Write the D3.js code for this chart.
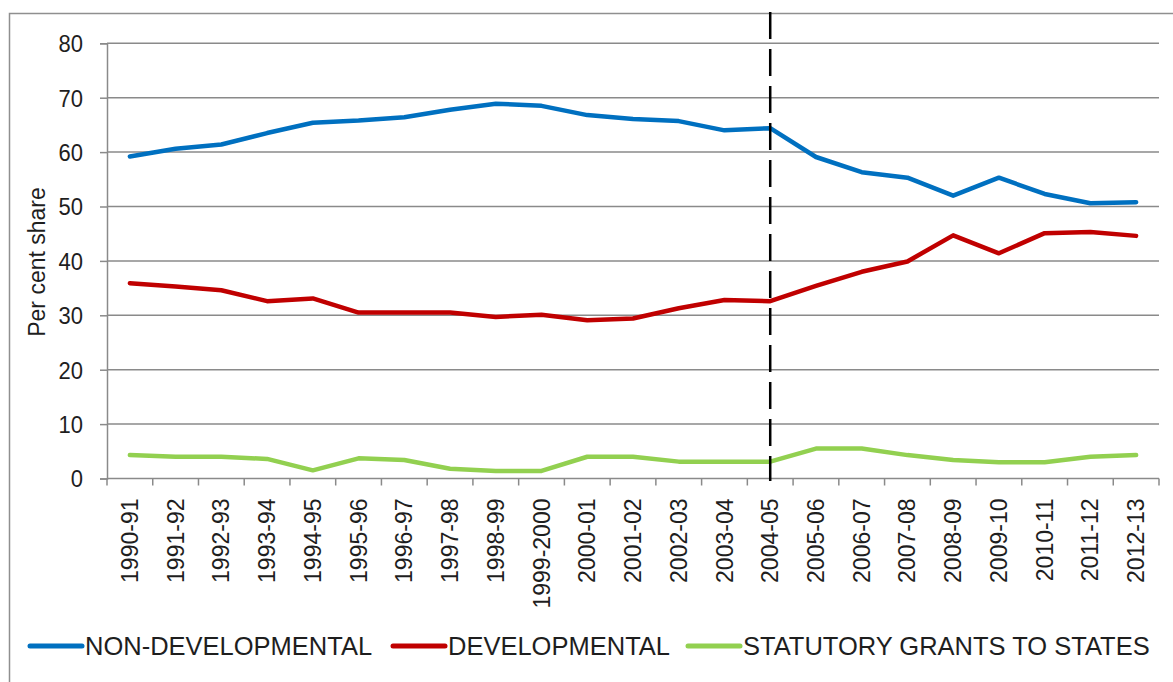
<!DOCTYPE html>
<html><head><meta charset="utf-8">
<script src="https://cdn.jsdelivr.net/npm/d3@7"></script>
<style>body{margin:0;background:#fff;}svg{display:block;font-family:"Liberation Sans",Arial,sans-serif;}</style>
</head><body>
<svg id="c" width="1173" height="682"></svg>
<script>
const categories = ["1990-91","1991-92","1992-93","1993-94","1994-95","1995-96","1996-97","1997-98","1998-99","1999-2000","2000-01","2001-02","2002-03","2003-04","2004-05","2005-06","2006-07","2007-08","2008-09","2009-10","2010-11","2011-12","2012-13"];
const nonDevelopmental = [59.2,60.6,61.4,63.5,65.4,65.8,66.4,67.8,68.9,68.5,66.8,66.1,65.7,64.0,64.4,59.1,56.3,55.3,52.0,55.3,52.3,50.6,50.8];
const developmental = [35.9,35.3,34.6,32.6,33.1,30.5,30.5,30.5,29.7,30.1,29.1,29.4,31.3,32.8,32.6,35.4,38.0,39.9,44.7,41.4,45.1,45.3,44.6];
const statutoryGrants = [4.3,4.0,4.0,3.6,1.5,3.7,3.4,1.8,1.4,1.4,4.0,4.0,3.1,3.1,3.1,5.5,5.5,4.3,3.4,3.0,3.0,4.0,4.3];
const yTicks = [0,10,20,30,40,50,60,70,80];
const seriesNames = ["NON-DEVELOPMENTAL","DEVELOPMENTAL","STATUTORY GRANTS TO STATES"];
const seriesColors = ["#0070C0","#C00000","#92D050"];
const markerCategory = "2004-05";

(function () {
const svg = d3.select("#c");
const pLeft = 107, pRight = 1159, pTop = 43.3, pBottom = 478.5;
const x = d3.scaleBand().domain(categories).range([pLeft, pRight]);
const y = d3.scaleLinear().domain([0, 80]).range([pBottom, pTop]);
const grid = "#8a8a8a", txt = "#1e1e1e";

// outer border (partially cropped)
svg.append("rect").attr("x", 9.5).attr("y", 13.5).attr("width", 1200).attr("height", 700)
  .attr("fill", "none").attr("stroke", "#8f8f8f").attr("stroke-width", 1.5);

// y axis
const yAxis = d3.axisLeft(y).tickValues(yTicks).tickSize(7).tickPadding(0).tickFormat(d3.format("d"));
const yg = svg.append("g").attr("transform", `translate(${pLeft},0)`).call(yAxis);
yg.select(".domain").attr("stroke", grid).attr("stroke-width", 1.5);
yg.selectAll(".tick line").attr("stroke", grid).attr("stroke-width", 1.5);
yg.selectAll(".tick text").attr("font-size", 22).attr("fill", txt)
  .attr("font-family", "Liberation Sans, Arial, sans-serif")
  .attr("x", null).attr("dy", "0.34em")
  .attr("transform", "translate(-24,0) scale(1,1.12)");
// gridlines
svg.append("g").selectAll("line").data(yTicks.filter(d => d > 0)).join("line")
  .attr("x1", pLeft).attr("x2", pRight).attr("y1", d => y(d)).attr("y2", d => y(d))
  .attr("stroke", grid).attr("stroke-width", 1.5);

// x axis with boundary ticks
svg.append("line").attr("x1", pLeft).attr("x2", pRight).attr("y1", pBottom).attr("y2", pBottom)
  .attr("stroke", grid).attr("stroke-width", 1.5);
const bounds = categories.map(c => x(c)).concat([pRight]);
svg.append("g").selectAll("line").data(bounds).join("line")
  .attr("x1", d => d).attr("x2", d => d).attr("y1", pBottom).attr("y2", pBottom + 7)
  .attr("stroke", grid).attr("stroke-width", 1.5);
svg.append("g").selectAll("text").data(categories).join("text")
  .attr("transform", d => `translate(${x(d) + x.bandwidth() / 2},${pBottom + 20}) rotate(-90)`)
  .attr("text-anchor", "end").attr("dy", "0.35em").attr("font-size", 23).attr("fill", txt)
  .text(d => d);

// y title
svg.append("text").attr("transform", "translate(37,262) rotate(-90)")
  .attr("text-anchor", "middle").attr("dy", "0.35em").attr("font-size", 23).attr("fill", txt)
  .text("Per cent share");

// series lines
const allSeries = [nonDevelopmental, developmental, statutoryGrants];
const line = d3.line().x((d, i) => x(categories[i]) + x.bandwidth() / 2).y(d => y(d));
allSeries.forEach((s, k) => {
  svg.append("path").datum(s).attr("d", line).attr("fill", "none")
    .attr("stroke", seriesColors[k]).attr("stroke-width", 4.5)
    .attr("stroke-linejoin", "round").attr("stroke-linecap", "round");
});

// dashed vertical marker
const mx = x(markerCategory) + x.bandwidth() / 2;
svg.append("line").attr("x1", mx).attr("x2", mx).attr("y1", 12).attr("y2", 481)
  .attr("stroke", "#000").attr("stroke-width", 2.5).attr("stroke-dasharray", "27,10");

// legend
const legendStarts = [30, 393, 688];
const ly = 646;
seriesNames.forEach((n, k) => {
  const lx = legendStarts[k];
  svg.append("line").attr("x1", lx).attr("x2", lx + 52).attr("y1", ly).attr("y2", ly)
    .attr("stroke", seriesColors[k]).attr("stroke-width", 5).attr("stroke-linecap", "round");
  svg.append("text").attr("x", lx + 55).attr("y", ly).attr("dy", "0.36em")
    .attr("font-size", 25.5).attr("fill", txt).text(n);
});
})();
</script>
</body></html>
